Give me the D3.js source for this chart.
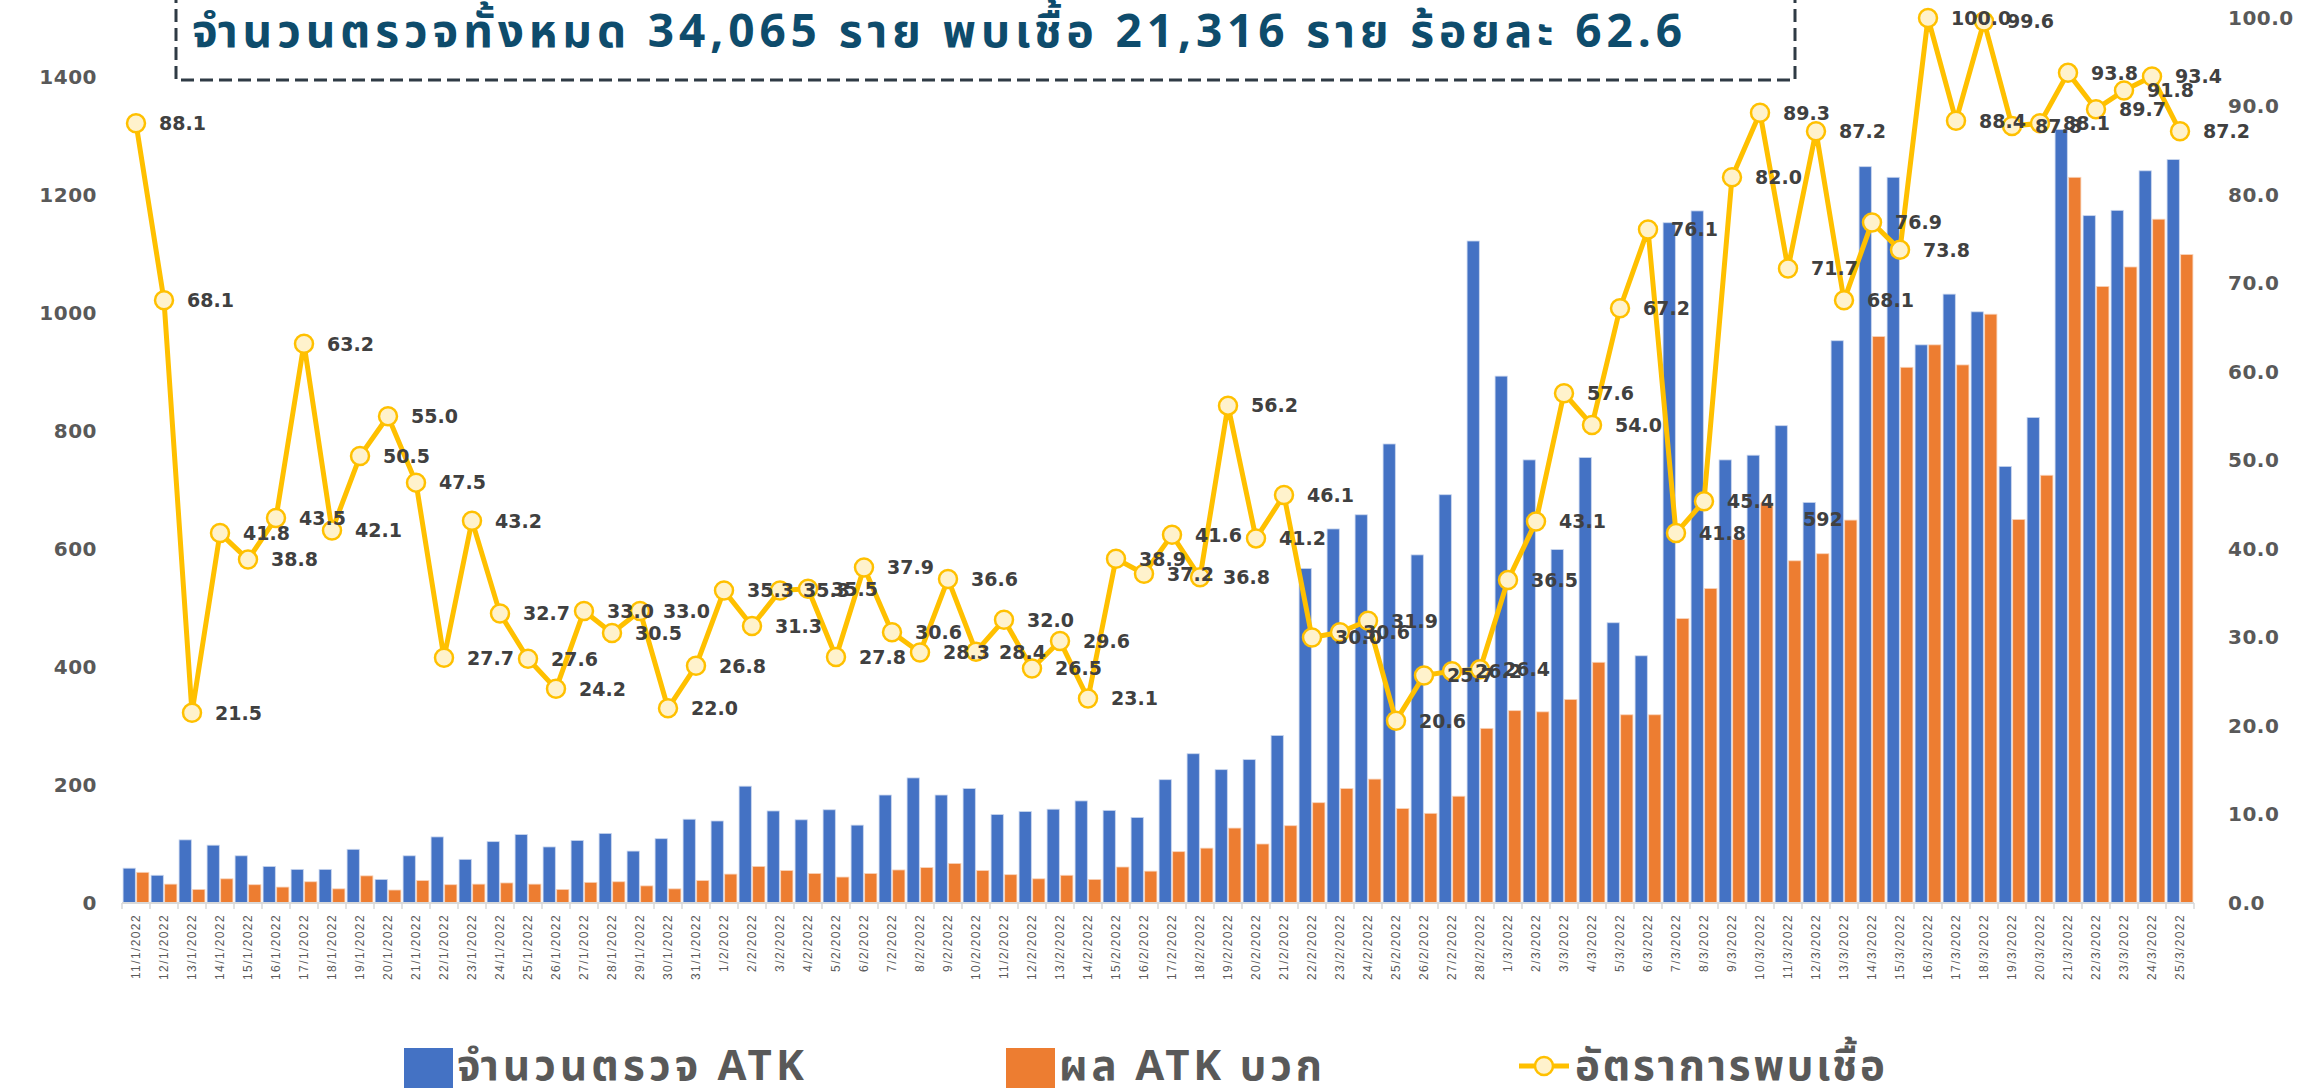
<!DOCTYPE html>
<html>
<head>
<meta charset="utf-8">
<script src="https://cdn.jsdelivr.net/npm/d3@7/dist/d3.min.js"></script>
<style>
  body { margin: 0; background: #fff; overflow: hidden; }
  svg { display: block; }
</style>
</head>
<body>
<script>
// วันที่ (แกน X)
var dates = [
  "11/1/2022","12/1/2022","13/1/2022","14/1/2022","15/1/2022","16/1/2022","17/1/2022",
  "18/1/2022","19/1/2022","20/1/2022","21/1/2022","22/1/2022","23/1/2022","24/1/2022",
  "25/1/2022","26/1/2022","27/1/2022","28/1/2022","29/1/2022","30/1/2022","31/1/2022",
  "1/2/2022","2/2/2022","3/2/2022","4/2/2022","5/2/2022","6/2/2022","7/2/2022",
  "8/2/2022","9/2/2022","10/2/2022","11/2/2022","12/2/2022","13/2/2022","14/2/2022",
  "15/2/2022","16/2/2022","17/2/2022","18/2/2022","19/2/2022","20/2/2022","21/2/2022",
  "22/2/2022","23/2/2022","24/2/2022","25/2/2022","26/2/2022","27/2/2022","28/2/2022",
  "1/3/2022","2/3/2022","3/3/2022","4/3/2022","5/3/2022","6/3/2022","7/3/2022",
  "8/3/2022","9/3/2022","10/3/2022","11/3/2022","12/3/2022","13/3/2022","14/3/2022",
  "15/3/2022","16/3/2022","17/3/2022","18/3/2022","19/3/2022","20/3/2022","21/3/2022",
  "22/3/2022","23/3/2022","24/3/2022","25/3/2022"
];

// จำนวนตรวจ ATK
var tested = [
  59, 47, 107, 98, 80, 62, 57, 57, 91, 40, 80, 112, 74, 104, 116, 95, 106, 118, 88, 109, 142,
  139, 198, 156, 141, 158, 132, 183, 212, 183, 194, 150, 155, 159, 173, 157, 145, 209, 253, 226,
  243, 284, 567, 634, 658, 778, 590, 692, 1122,
  893, 751, 599, 755, 475, 419, 1153, 1173, 751, 759, 809, 679, 953, 1248, 1230, 946, 1032,
  1002, 740, 823, 1311, 1165, 1174, 1241, 1260
];

// ผล ATK บวก
var positive = [
  52, 32, 23, 41, 31, 27, 36, 24, 46, 22, 38, 31, 32, 34, 32, 23, 35, 36, 29, 24, 38,
  49, 62, 55, 50, 44, 50, 56, 60, 67, 55, 48, 41, 47, 40, 61, 54, 87, 93, 127,
  100, 131, 170, 194, 210, 160, 152, 181, 296,
  326, 324, 345, 408, 319, 319, 482, 533, 616, 678, 580, 592, 649, 960, 908, 946, 912,
  998, 650, 725, 1230, 1045, 1078, 1159, 1099
];

// อัตราการพบเชื้อ (%)
var rate = [
  88.1, 68.1, 21.5, 41.8, 38.8, 43.5, 63.2, 42.1, 50.5, 55.0, 47.5, 27.7, 43.2, 32.7,
  27.6, 24.2, 33.0, 30.5, 33.0, 22.0, 26.8,
  35.3, 31.3, 35.3, 35.5, 27.8, 37.9, 30.6, 28.3, 36.6, 28.4, 32.0, 26.5, 29.6, 23.1,
  38.9, 37.2, 41.6, 36.8, 56.2, 41.2, 46.1, 30.0, 30.6, 31.9, 20.6, 25.7, 26.2, 26.4,
  36.5, 43.1, 57.6, 54.0, 67.2, 76.1, 41.8, 45.4, 82.0, 89.3, 71.7, 87.2, 68.1, 76.9,
  73.8, 100.0, 88.4, 99.6, 87.8, 88.1, 93.8, 89.7, 91.8, 93.4, 87.2
];

var leftTicks = [0, 200, 400, 600, 800, 1000, 1200, 1400];
var rightTicks = [0, 10, 20, 30, 40, 50, 60, 70, 80, 90, 100];

// ป้ายค่าเดียวที่ติดอยู่บนแท่งสีส้ม (12/3/2022)
var barLabelDate = "12/3/2022";

var titleText = "จำนวนตรวจทั้งหมด 34,065 ราย พบเชื้อ 21,316 ราย ร้อยละ 62.6";
var legendNames = ["จำนวนตรวจ ATK", "ผล ATK บวก", "อัตราการพบเชื้อ"];

var blue = "#4472C4", orange = "#ED7D31", gold = "#FFC000", goldFill = "#FFF2CC";
var numFont = "'DejaVu Sans', 'Liberation Sans', sans-serif";
var thaiFont = "'Noto Sans Thai', 'Tahoma', 'Loma', 'Garuda', 'Noto Sans', sans-serif";

var W = 2313, H = 1088;
var svg = d3.select("body").append("svg")
  .attr("width", W)
  .attr("height", H);

// สเกล
var x0 = d3.scaleBand().domain(dates).range([122, 2194]);
var x1 = d3.scaleBand().domain(["t", "p"]).range([0, x0.bandwidth()])
  .paddingInner(0.1).paddingOuter(0.08);
var yL = d3.scaleLinear().domain([0, 1500]).range([903, 18]);
var yR = d3.scaleLinear().domain([0, 100]).range([903, 18]);

var rows = dates.map(function(d, i) {
  return { date: d, t: tested[i], p: positive[i], r: rate[i] };
});

// แท่ง
var g = svg.append("g").selectAll("g")
  .data(rows).enter().append("g")
  .attr("transform", function(d) { return "translate(" + x0(d.date) + ",0)"; });

g.append("rect")
  .attr("x", x1("t")).attr("width", x1.bandwidth())
  .attr("y", function(d) { return yL(d.t); })
  .attr("height", function(d) { return yL(0) - yL(d.t); })
  .attr("fill", blue).attr("stroke", "#c9d6ee").attr("stroke-width", 0.8);

g.append("rect")
  .attr("x", x1("p")).attr("width", x1.bandwidth())
  .attr("y", function(d) { return yL(d.p); })
  .attr("height", function(d) { return yL(0) - yL(d.p); })
  .attr("fill", orange).attr("stroke", "#f8d3ba").attr("stroke-width", 0.8);

// แกน X
svg.append("line")
  .attr("x1", x0.range()[0]).attr("x2", x0.range()[1])
  .attr("y1", yL(0)).attr("y2", yL(0))
  .attr("stroke", "#D9D9D9").attr("stroke-width", 2);

svg.append("g").selectAll("line")
  .data(dates.concat(["end"])).enter().append("line")
  .attr("x1", function(d, i) { return x0.range()[0] + i * x0.step(); })
  .attr("x2", function(d, i) { return x0.range()[0] + i * x0.step(); })
  .attr("y1", yL(0)).attr("y2", yL(0) + 6)
  .attr("stroke", "#D9D9D9").attr("stroke-width", 1.5);

svg.append("g").selectAll("text")
  .data(dates).enter().append("text")
  .attr("transform", function(d) {
    return "translate(" + (x0(d) + x0.bandwidth() / 2 + 4) + "," + 914 + ") rotate(-90)";
  })
  .attr("text-anchor", "end")
  .style("font-family", "'Liberation Sans Narrow', 'Liberation Sans', sans-serif")
  .style("font-size", "12px")
  .style("letter-spacing", "1.4px")
  .attr("fill", "#595959")
  .text(function(d) { return d; });

// แกนซ้าย / ขวา
var axL = svg.append("g").attr("transform", "translate(122,0)")
  .call(d3.axisLeft(yL).tickValues(leftTicks).tickSize(0).tickPadding(25)
    .tickFormat(d3.format("d")));
var axR = svg.append("g").attr("transform", "translate(2194,0)")
  .call(d3.axisRight(yR).tickValues(rightTicks).tickSize(0).tickPadding(34)
    .tickFormat(d3.format(".1f")));
[axL, axR].forEach(function(ax) {
  ax.select(".domain").remove();
  ax.selectAll("text")
    .style("font-family", numFont)
    .style("font-size", "20px")
    .style("font-weight", "bold")
    .style("letter-spacing", "0.5px")
    .attr("fill", "#595959");
});

// เส้นอัตรา
var line = d3.line()
  .x(function(d) { return x0(d.date) + x0.bandwidth() / 2; })
  .y(function(d) { return yR(d.r); });

svg.append("path")
  .datum(rows)
  .attr("d", line)
  .attr("fill", "none")
  .attr("stroke", gold)
  .attr("stroke-width", 5)
  .attr("stroke-linejoin", "round");

svg.append("g").selectAll("circle")
  .data(rows).enter().append("circle")
  .attr("cx", function(d) { return x0(d.date) + x0.bandwidth() / 2; })
  .attr("cy", function(d) { return yR(d.r); })
  .attr("r", 9)
  .attr("fill", goldFill)
  .attr("stroke", gold)
  .attr("stroke-width", 2.5);

svg.append("g").selectAll("text")
  .data(rows).enter().append("text")
  .attr("x", function(d) { return x0(d.date) + x0.bandwidth() / 2 + 23; })
  .attr("y", function(d) { return yR(d.r); })
  .attr("dy", "0.36em")
  .style("font-family", numFont)
  .style("font-size", "19px")
  .style("font-weight", "bold")
  .attr("fill", "#404040")
  .text(function(d) { return d.r.toFixed(1); });

// ป้ายค่าแท่งส้ม
var bl = rows.filter(function(d) { return d.date === barLabelDate; })[0];
svg.append("text")
  .attr("x", x0(bl.date) + x1("p") + x1.bandwidth() / 2)
  .attr("y", yL(bl.p) - 35)
  .attr("dy", "0.36em")
  .attr("text-anchor", "middle")
  .style("font-family", numFont)
  .style("font-size", "19px")
  .style("font-weight", "bold")
  .attr("fill", "#404040")
  .text(bl.p);

// กล่องหัวเรื่อง
svg.append("path")
  .attr("d", "M176,-10 V80 H1795 V-10")
  .attr("fill", "none")
  .attr("stroke", "#2F3B45")
  .attr("stroke-width", 3)
  .attr("stroke-dasharray", "13,6");

svg.append("text")
  .attr("x", 192).attr("y", 47)
  .attr("textLength", 1490)
  .attr("lengthAdjust", "spacing")
  .style("font-family", thaiFont)
  .style("font-size", "46px")
  .style("font-weight", "bold")
  .attr("fill", "#0E4C6C")
  .text(titleText);

// คำอธิบายสัญลักษณ์
var lg = svg.append("g");
lg.append("rect").attr("x", 404).attr("y", 1048).attr("width", 49).attr("height", 40).attr("fill", blue);
lg.append("rect").attr("x", 1006).attr("y", 1048).attr("width", 49).attr("height", 40).attr("fill", orange);
lg.append("line").attr("x1", 1519).attr("x2", 1569).attr("y1", 1066).attr("y2", 1066)
  .attr("stroke", gold).attr("stroke-width", 5);
lg.append("circle").attr("cx", 1544).attr("cy", 1066).attr("r", 9)
  .attr("fill", goldFill).attr("stroke", gold).attr("stroke-width", 2.5);

var legendX = [457, 1059, 1575];
var legendW = [347, 263, 310];
lg.selectAll("text.lt")
  .data(legendNames).enter().append("text")
  .attr("class", "lt")
  .attr("x", function(d, i) { return legendX[i]; })
  .attr("y", 1080)
  .attr("textLength", function(d, i) { return legendW[i]; })
  .attr("lengthAdjust", "spacing")
  .style("font-family", thaiFont)
  .style("font-size", "42px")
  .style("font-weight", "bold")
  .attr("fill", "#595959")
  .text(function(d) { return d; });
</script>
</body>
</html>
